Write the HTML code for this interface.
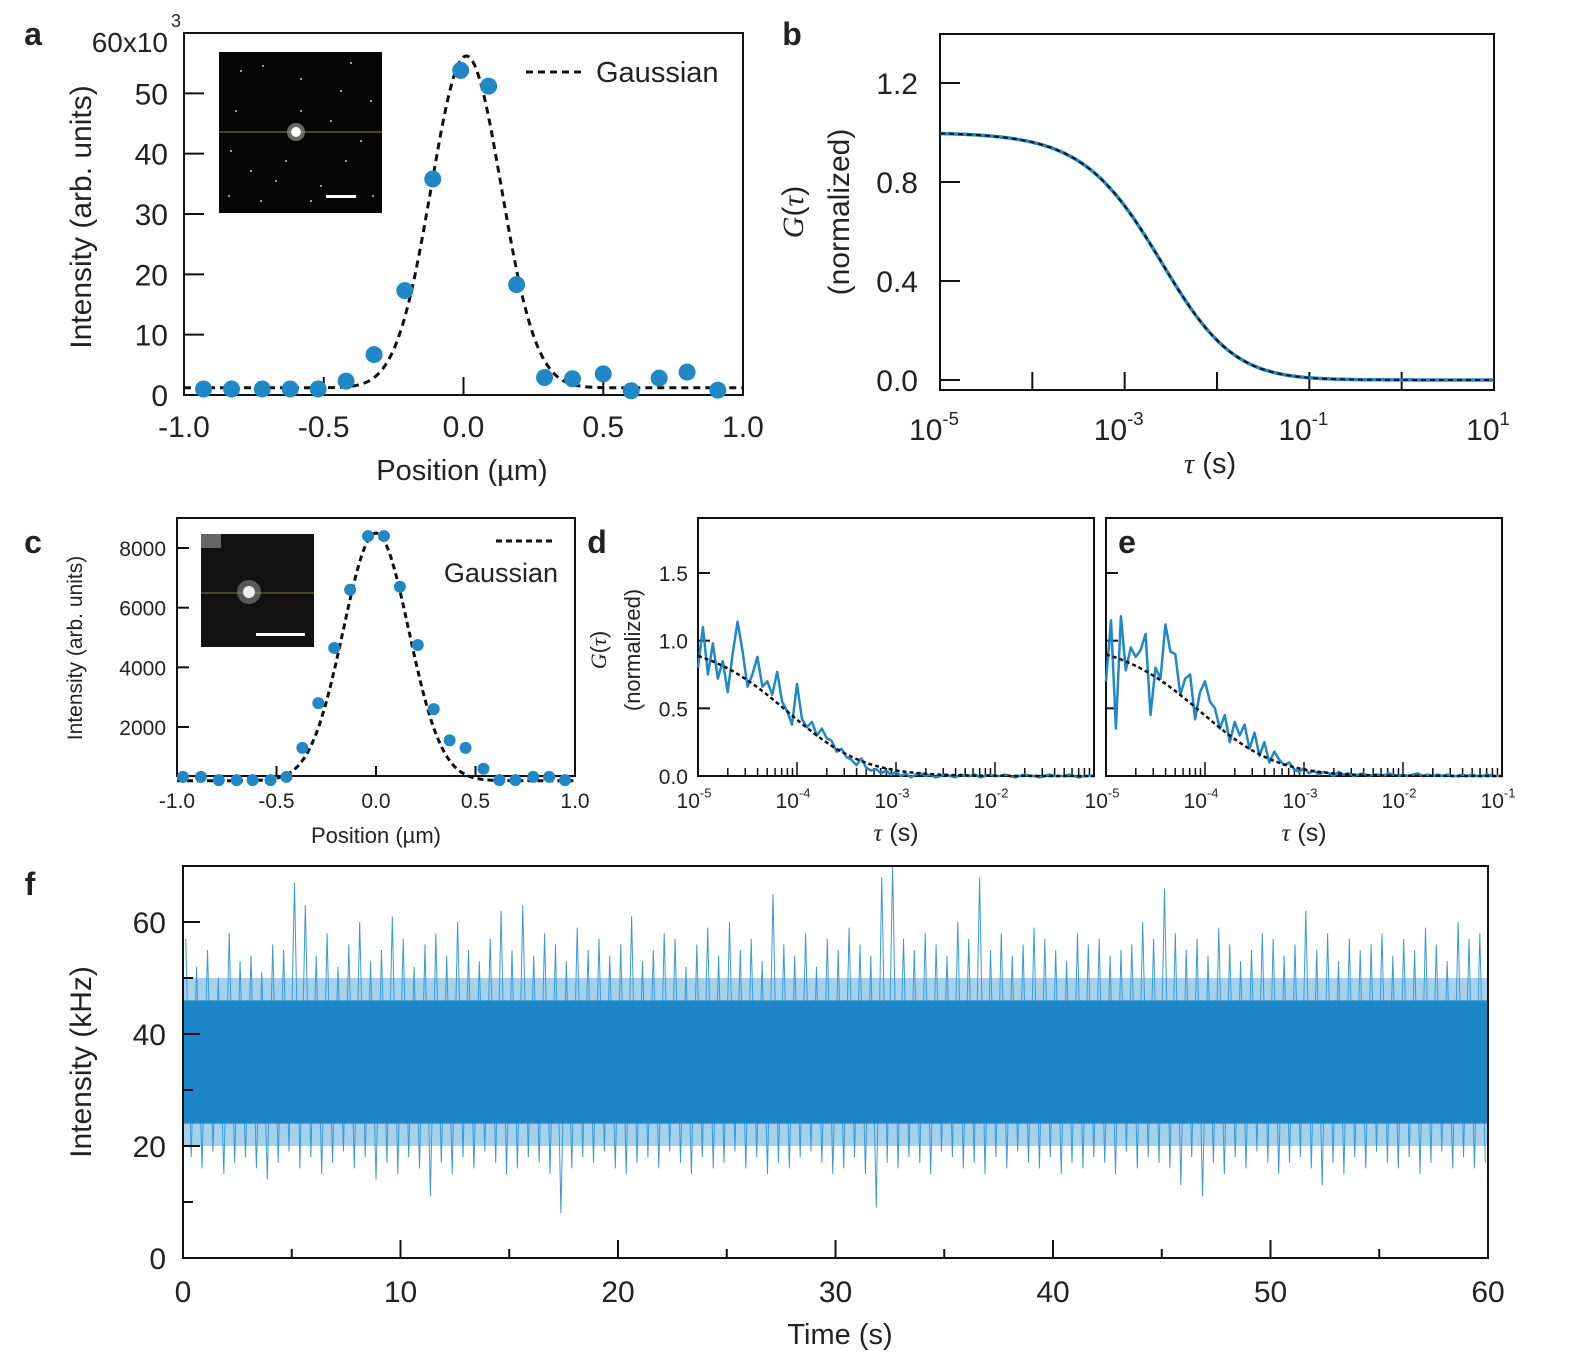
<!DOCTYPE html>
<html><head><meta charset="utf-8"><style>
html,body{margin:0;padding:0;background:#fff}
svg{display:block;font-family:"Liberation Sans",Arial,sans-serif}
</style></head><body>
<svg id="fig" width="1570" height="1358" viewBox="0 0 1570 1358" xmlns="http://www.w3.org/2000/svg"></svg>
<script>
// ---------- data ----------
const aPosX=[-0.93,-0.83,-0.72,-0.62,-0.52,-0.42,-0.32,-0.21,-0.11,-0.01,0.09,0.19,0.29,0.39,0.5,0.6,0.7,0.8,0.91];
const aInt=[1,1,1,1,1,2.3,6.7,17.3,35.8,53.8,51.2,18.3,2.9,2.7,3.5,0.7,2.8,3.8,0.8];
const aFitParams=[1.2,55,0.01,0.125]; // base, amp, center, sigma
const aYTicks=[0,10,20,30,40,50];
const aXTicks=[-1.0,-0.5,0.0,0.5,1.0];
const bFitParams=[1.0,-2.57,5]; // amp, log10 tauD, aspect^2
const bYTicks=[0.0,0.4,0.8,1.2];
const bXTicks=[-5,-3,-1,1];
const cPosX=[-0.97,-0.88,-0.79,-0.70,-0.62,-0.53,-0.45,-0.37,-0.29,-0.21,-0.13,-0.04,0.04,0.12,0.21,0.29,0.37,0.45,0.54,0.62,0.70,0.79,0.87,0.95];
const cInt=[330,330,220,220,220,220,330,1300,2800,4650,6600,8400,8400,6700,4750,2600,1550,1300,600,220,220,330,330,220];
const cFitParams=[200,8300,0.0,0.165];
const cYTicks=[2000,4000,6000,8000];
const cXTicks=[-1.0,-0.5,0.0,0.5,1.0];
const dYTicks=[0.0,0.5,1.0,1.5];
const dXTicks=[-5,-4,-3,-2];
const eXTicks=[-5,-4,-3,-2,-1];
const logTauStart=-5, logTauStep=0.05;
const dG=[0.80,1.10,0.75,0.98,0.72,0.85,0.62,0.90,1.14,0.92,0.66,0.75,0.88,0.66,0.70,0.60,0.77,0.55,0.48,0.38,0.68,0.42,0.36,0.40,0.30,0.35,0.28,0.26,0.18,0.20,0.14,0.12,0.08,0.13,0.06,0.04,0.05,0.02,0.04,0.01,0.03,0.00,0.02,-0.01,0.01,0.02,0.00,0.01,-0.01,0.00,0.01,0.00,-0.01,0.01,0.00,0.00,0.01,-0.01,0.00,0.01,0.00,0.00,0.01,0.00,-0.01,0.00,0.01,0.00,0.00,-0.01,0.00,0.01,0.00,0.00,0.00,0.01,0.00,-0.01,0.00,0.00,0.00];
const eG=[0.70,1.15,0.35,1.18,0.78,0.95,0.88,0.93,1.05,0.45,0.80,0.72,1.12,0.92,0.90,0.60,0.72,0.75,0.42,0.62,0.70,0.55,0.50,0.35,0.45,0.25,0.40,0.30,0.38,0.20,0.32,0.15,0.25,0.10,0.18,0.12,0.08,0.10,0.05,0.03,0.06,0.02,0.04,0.01,0.03,0.02,0.00,0.03,0.01,0.02,0.00,0.01,0.02,0.00,0.01,0.01,0.00,0.02,0.01,0.00,0.01,0.00,0.01,0.02,0.00,0.01,0.00,0.01,0.00,0.01,0.00,0.00,0.01,0.00,0.01,0.00,0.00,0.01,0.00,0.00,0.00];
const dFitParams=[1.0,-4.05,4];
const eFitParams=[1.0,-4.0,4];
const fBinSeconds=0.5;
const fTop=[57,52,55,50,58,53,54,51,56,55,67,63,54,58,52,56,60,53,55,61,57,52,56,58,54,60,55,53,57,62,55,63,54,58,56,53,59,55,57,54,56,61,53,55,58,57,52,56,59,54,60,55,57,53,65,56,54,58,52,57,55,59,56,54,68,70,57,55,58,56,54,60,57,68,55,58,54,56,59,57,55,53,58,56,57,54,55,56,60,57,66,58,55,57,54,59,56,53,55,58,57,54,56,62,55,58,53,57,55,56,58,54,57,55,59,56,53,60,57,58];
const fBottom=[18,16,19,15,17,18,16,14,17,19,16,18,15,17,19,16,18,14,17,15,18,16,11,17,15,18,16,19,17,15,16,18,17,15,8,16,18,17,19,16,15,17,18,16,19,17,15,18,16,17,19,16,18,15,17,16,18,19,17,15,16,18,15,9,17,16,18,17,15,19,18,16,17,15,18,16,19,17,16,18,15,17,16,18,17,15,19,16,18,17,16,13,18,11,17,15,18,16,19,17,15,17,18,16,13,17,15,18,16,19,17,16,18,15,17,19,16,18,16,17];
const fBand=[20,50,24,46]; // outer low/high, core low/high (kHz)
const fYTicks=[0,20,40,60];
const fXTicks=[0,10,20,30,40,50,60];

// ---------- helpers ----------
const NS="http://www.w3.org/2000/svg";
const svg=document.getElementById('fig');
function el(tag,attrs,parent){const e=document.createElementNS(NS,tag);for(const k in attrs)e.setAttribute(k,attrs[k]);(parent||svg).appendChild(e);return e;}
function lin(d0,d1,p0,p1){return v=>p0+(v-d0)*(p1-p0)/(d1-d0);}
function txt(x,y,s,size,anchor,parent,extra){const t=el('text',Object.assign({x:x,y:y,'font-size':size,'text-anchor':anchor||'middle',fill:'#222'},extra||{}),parent);t.textContent=s;return t;}
function pow10(x,y,exp,size,parent){const t=el('text',{x:x,y:y,'font-size':size,'text-anchor':'middle',fill:'#222'},parent);
 const a=el('tspan',{},t);a.textContent='10';const b=el('tspan',{dy:-size*0.5,'font-size':size*0.62},t);b.textContent=String(exp);return t;}
const BLUE='#1e88c8';

// ---------- panel a ----------
(function(){
 const g=el('g',{});
 
 
 const X=lin(-1,1,184,743), Y=lin(0,60,395,33);
 const lab=txt(33,45,'a',32,'middle',g,{'font-weight':'bold'});
 
 const box=el('rect',{x:184,y:33,width:559,height:362,fill:'none',stroke:'#111','stroke-width':2},g);
 
 aYTicks.forEach(v=>{el('line',{x1:184,x2:204,y1:Y(v),y2:Y(v),stroke:'#111','stroke-width':2},g);
  const t=txt(168,Y(v)+11,String(v),30,'end',g);});
 const t60=txt(168,52,'60x10',28,'end',g);
 txt(176,27,'3',18,'middle',g);
 aXTicks.forEach(v=>{el('line',{x1:X(v),x2:X(v),y1:395,y2:377,stroke:'#111','stroke-width':2},g);
  const t=txt(X(v),437,v.toFixed(1),30,'middle',g);});
 const xt=txt(462,480,'Position (µm)',29,'middle',g);
 const yt=txt(0,0,'Intensity (arb. units)',30,'middle',g,{transform:'translate(91,217) rotate(-90)'});
 // inset
 const ins=el('g',{},g);
 el('rect',{x:219,y:52,width:163,height:161,fill:'#050505'},ins);
 [[240,70],[262,65],[300,78],[350,62],[370,100],[230,150],[250,170],[275,180],[320,185],[345,160],[360,140],[235,110],[330,120],[310,200],[260,200],[340,90],[285,160],[372,195],[228,195],[300,110]].forEach(p=>el('rect',{x:p[0],y:p[1],width:2,height:2,fill:'#9a9a9a'},ins));
 el('line',{x1:219,x2:382,y1:132,y2:132,stroke:'#8a8a30','stroke-width':1},ins);
 el('circle',{cx:296,cy:132,r:9,fill:'#aaa',opacity:0.6},ins);
 el('circle',{cx:296,cy:132,r:5,fill:'#fff'},ins);
 el('rect',{x:326,y:195,width:30,height:3,fill:'#fff'},ins);
 // fit
 let d='';for(let i=0;i<=300;i++){const x=-1+i*2/300;const v=aFitParams[0]+aFitParams[1]*Math.exp(-Math.pow(x-aFitParams[2],2)/(2*aFitParams[3]*aFitParams[3]));d+=(i?'L':'M')+X(x).toFixed(1)+','+Y(v).toFixed(1);}
 const fit=el('path',{d:d,fill:'none',stroke:'#111','stroke-width':3,'stroke-dasharray':'7,5'},g);
 aPosX.forEach((x,i)=>{const c=el('circle',{cx:X(x),cy:Y(aInt[i]),r:8.5,fill:BLUE},g);});
 const lg=el('g',{},g);
 el('line',{x1:526,x2:584,y1:72,y2:72,stroke:'#111','stroke-width':3,'stroke-dasharray':'7,5'},lg);
 txt(596,82,'Gaussian',29,'start',lg);
})();

// ---------- panel b ----------
(function(){
 const g=el('g',{});
 const X=lin(-5,1,940,1494), Y=lin(0,1.2,380,83);
 const lab=txt(792,45,'b',32,'middle',g,{'font-weight':'bold'});
 const box=el('rect',{x:940,y:34,width:554,height:356,fill:'none',stroke:'#111','stroke-width':2},g);
 bYTicks.forEach(v=>{el('line',{x1:940,x2:960,y1:Y(v),y2:Y(v),stroke:'#111','stroke-width':2},g);
  const t=txt(918,Y(v)+11,v.toFixed(1),30,'end',g);});
 for(let e=-5;e<=1;e++){el('line',{x1:X(e),x2:X(e),y1:390,y2:372,stroke:'#111','stroke-width':2},g);}
 bXTicks.forEach(e=>{const t=pow10(X(e)-6,440,e,30,g);});
 const xt=el('text',{x:1210,y:473,'font-size':29,'text-anchor':'middle',fill:'#222'},g);xt.innerHTML='<tspan font-style="italic" font-family="Liberation Serif">τ</tspan> (s)';
 const yt=el('text',{'font-size':30,'text-anchor':'middle',fill:'#222',transform:'translate(803,212) rotate(-90)'},g);yt.innerHTML='<tspan font-style="italic" font-family="Liberation Serif">G</tspan>(<tspan font-style="italic" font-family="Liberation Serif">τ</tspan>)';
 const yt2=txt(0,0,'(normalized)',30,'middle',g,{transform:'translate(849,212) rotate(-90)'});
 let d='';const td=Math.pow(10,bFitParams[1]);
 for(let i=0;i<=300;i++){const l=-5+i*6/300;const t=Math.pow(10,l);const v=bFitParams[0]/((1+t/td)*Math.sqrt(1+t/(bFitParams[2]*td)));d+=(i?'L':'M')+X(l).toFixed(1)+','+Y(v).toFixed(1);}
 const c=el('path',{d:d,fill:'none',stroke:BLUE,'stroke-width':3.5},g);
 const f=el('path',{d:d,fill:'none',stroke:'#111','stroke-width':2,'stroke-dasharray':'5,4'},g);
})();

// ---------- panel c ----------
(function(){
 const g=el('g',{});
 const X=lin(-1,1,177,575), Y=lin(2000,8000,727,548);
 const lab=txt(33,553,'c',32,'middle',g,{'font-weight':'bold'});
 const box=el('rect',{x:177,y:518,width:398,height:258,fill:'none',stroke:'#111','stroke-width':2},g);
 cYTicks.forEach(v=>{el('line',{x1:177,x2:189,y1:Y(v),y2:Y(v),stroke:'#111','stroke-width':2},g);
  const t=txt(166,Y(v)+8,String(v),21,'end',g);});
 cXTicks.forEach(v=>{el('line',{x1:X(v),x2:X(v),y1:776,y2:766,stroke:'#111','stroke-width':2},g);
  const t=txt(X(v),808,v.toFixed(1),21,'middle',g);});
 const xt=txt(376,843,'Position (µm)',22,'middle',g);
 const yt=txt(0,0,'Intensity (arb. units)',21,'middle',g,{transform:'translate(82,648) rotate(-90)'});
 const ins=el('g',{},g);
 el('rect',{x:201,y:534,width:113,height:113,fill:'#111'},ins);
 el('rect',{x:201,y:534,width:20,height:14,fill:'#666'},ins);
 el('line',{x1:201,x2:314,y1:593,y2:593,stroke:'#7a7a30','stroke-width':1},ins);
 el('circle',{cx:249,cy:592,r:12,fill:'#888',opacity:0.6},ins);
 el('circle',{cx:249,cy:592,r:6,fill:'#eee'},ins);
 el('rect',{x:256,y:633,width:49,height:3,fill:'#fff'},ins);
 let d='';for(let i=0;i<=300;i++){const x=-1+i*2/300;const v=cFitParams[0]+cFitParams[1]*Math.exp(-Math.pow(x-cFitParams[2],2)/(2*cFitParams[3]*cFitParams[3]));d+=(i?'L':'M')+X(x).toFixed(1)+','+Y(v).toFixed(1);}
 const fit=el('path',{d:d,fill:'none',stroke:'#111','stroke-width':3,'stroke-dasharray':'6,4'},g);
 cPosX.forEach((x,i)=>{const c=el('circle',{cx:X(x),cy:Y(cInt[i]),r:6,fill:BLUE},g);});
 const lg=el('g',{},g);
 el('line',{x1:496,x2:554,y1:541,y2:541,stroke:'#111','stroke-width':3,'stroke-dasharray':'6,4'},lg);
 txt(558,582,'Gaussian',27,'end',lg);
})();

// ---------- panels d, e ----------
function fcsPanel(name,label,x0,x1,vals,fitP,xticks,showY){
 const g=el('g',{});
 const X=lin(-5,-1,x0,x1), Y=lin(0,1.5,776,573);
 const lab=txt(label=='d'?597:1127,553,label,32,'middle',g,{'font-weight':'bold'});
 const box=el('rect',{x:x0,y:518,width:x1-x0,height:258,fill:'none',stroke:'#111','stroke-width':2},g);
 dYTicks.forEach(v=>{el('line',{x1:x0,x2:x0+12,y1:Y(v),y2:Y(v),stroke:'#111','stroke-width':2},g);
  if(showY){const t=txt(x0-10,Y(v)+8,v.toFixed(1),21,'end',g);}});
 for(let e=-5;e<-1;e++){for(let k=1;k<10;k++){const xx=X(e+Math.log10(k));el('line',{x1:xx,x2:xx,y1:776,y2:k==1?762:768,stroke:'#111','stroke-width':1.5},g);}}
 xticks.forEach(e=>{const t=pow10(X(e)-4,808,e,21,g);});
 const xt=el('text',{x:(x0+x1)/2,y:841,'font-size':25,'text-anchor':'middle',fill:'#222'},g);xt.innerHTML='<tspan font-style="italic" font-family="Liberation Serif">τ</tspan> (s)';
 let d='';vals.forEach((v,i)=>{const l=logTauStart+i*logTauStep;d+=(i?'L':'M')+X(l).toFixed(1)+','+Y(v).toFixed(1);});
 const c=el('path',{d:d,fill:'none',stroke:BLUE,'stroke-width':2.5,'stroke-linejoin':'round'},g);
 let f='';const td=Math.pow(10,fitP[1]);for(let i=0;i<=200;i++){const l=-5+i*4/200;const t=Math.pow(10,l);const v=fitP[0]/((1+t/td)*Math.sqrt(1+t/(fitP[2]*td)));f+=(i?'L':'M')+X(l).toFixed(1)+','+Y(v).toFixed(1);}
 const ff=el('path',{d:f,fill:'none',stroke:'#111','stroke-width':2.5,'stroke-dasharray':'4,3'},g);
 return g;
}
fcsPanel('panel-d','d',698,1094,dG,dFitParams,dXTicks,true);
fcsPanel('panel-e','e',1106,1502,eG,eFitParams,eXTicks,false);
(function(){
 const yt=el('text',{'font-size':22,'text-anchor':'middle',fill:'#222',transform:'translate(606,650) rotate(-90)'});yt.innerHTML='<tspan font-style="italic" font-family="Liberation Serif">G</tspan>(<tspan font-style="italic" font-family="Liberation Serif">τ</tspan>)';
 const yt2=txt(0,0,'(normalized)',22,'middle',svg,{transform:'translate(640,650) rotate(-90)'});
})();

// ---------- panel f ----------
(function(){
 const g=el('g',{});
 const X=lin(0,60,183,1488), Y=lin(0,60,1258,922);
 const lab=txt(30,895,'f',32,'middle',g,{'font-weight':'bold'});
 const outer=el('rect',{x:X(0),y:Y(fBand[1]),width:X(60)-X(0),height:Y(fBand[0])-Y(fBand[1]),fill:'#3a98d2',opacity:0.45},g);
 let d='';fTop.forEach((v,i)=>{const t0=i*fBinSeconds;d+=(i?'L':'M')+X(t0+fBinSeconds*0.25).toFixed(1)+','+Y(v).toFixed(1)+'L'+X(t0+fBinSeconds*0.75).toFixed(1)+','+Y(fBottom[i]).toFixed(1);});
 const tr=el('path',{d:d,fill:'none',stroke:'#3b9ad6','stroke-width':1},g);
 const core=el('rect',{x:X(0),y:Y(fBand[3]),width:X(60)-X(0),height:Y(fBand[2])-Y(fBand[3]),fill:'#1d86c8'},g);
 const box=el('rect',{x:183,y:866,width:1305,height:392,fill:'none',stroke:'#111','stroke-width':2},g);
 for(let v=0;v<=60;v+=10){el('line',{x1:183,x2:v%20==0?200:193,y1:Y(v),y2:Y(v),stroke:'#111','stroke-width':2},g);}
 fYTicks.forEach(v=>{const t=txt(166,Y(v)+11,String(v),30,'end',g);});
 for(let v=0;v<=60;v+=5){el('line',{x1:X(v),x2:X(v),y1:1258,y2:v%10==0?1240:1249,stroke:'#111','stroke-width':2},g);}
 fXTicks.forEach(v=>{const t=txt(X(v),1302,String(v),30,'middle',g);});
 const xt=txt(840,1344,'Time (s)',29,'middle',g);
 const yt=txt(0,0,'Intensity (kHz)',30,'middle',g,{transform:'translate(91,1062) rotate(-90)'});
})();
</script>
</body></html>
